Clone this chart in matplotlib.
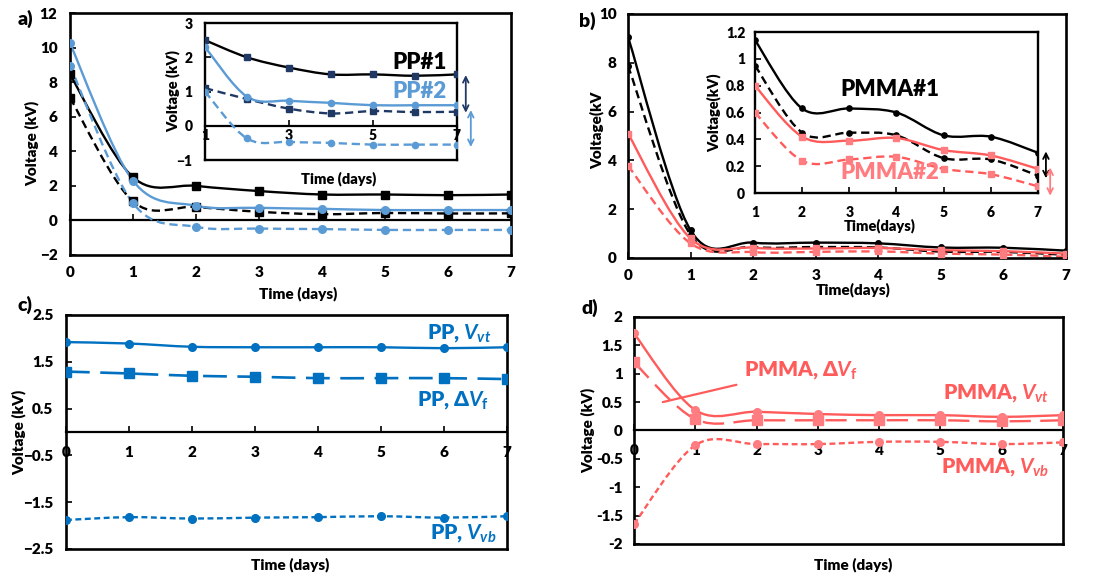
import numpy as np
import matplotlib
matplotlib.use("Agg")
import matplotlib.pyplot as plt
from matplotlib.path import Path
from matplotlib.patches import PathPatch

plt.rcParams['font.family'] = ['Lato', 'DejaVu Sans']
plt.rcParams['font.weight'] = 'heavy'
plt.rcParams['axes.labelweight'] = 'heavy'
plt.rcParams['mathtext.fontset'] = 'custom'
plt.rcParams['mathtext.it'] = 'Lato:italic:bold'
plt.rcParams['mathtext.rm'] = 'Lato:bold'
plt.rcParams['mathtext.bf'] = 'Lato:bold'

# ---------------- data ----------------
days = [0, 1, 2, 3, 4, 5, 6, 7]

# a) PP, top / bottom surface voltages
pp1_top = [8.45, 2.5, 2.0, 1.7, 1.5, 1.5, 1.46, 1.5]
pp1_bot = [7.1, 1.1, 0.78, 0.5, 0.36, 0.43, 0.4, 0.41]
pp2_top = [10.25, 2.3, 0.85, 0.73, 0.67, 0.6, 0.6, 0.6]
pp2_bot = [8.95, 1.0, -0.37, -0.47, -0.5, -0.55, -0.55, -0.55]

# b) PMMA
pmma1_top = [9.07, 1.14, 0.63, 0.63, 0.6, 0.43, 0.42, 0.3]
pmma1_bot = [7.88, 0.95, 0.45, 0.45, 0.43, 0.26, 0.25, 0.13]
pmma2_top = [5.1, 0.8, 0.42, 0.39, 0.41, 0.32, 0.28, 0.18]
pmma2_bot = [3.78, 0.6, 0.24, 0.25, 0.27, 0.18, 0.14, 0.05]

# c) PP
pp_vvt = [1.92, 1.89, 1.82, 1.81, 1.81, 1.81, 1.79, 1.81]
pp_dvf = [1.29, 1.25, 1.2, 1.18, 1.15, 1.15, 1.15, 1.13]
pp_vvb = [-1.88, -1.82, -1.85, -1.83, -1.82, -1.8, -1.83, -1.8]

# d) PMMA
pmma_vvt = [1.71, 0.36, 0.33, 0.29, 0.27, 0.27, 0.24, 0.27]
pmma_dvf = [1.2, 0.2, 0.18, 0.18, 0.18, 0.18, 0.16, 0.18]
pmma_vvb = [-1.65, -0.26, -0.24, -0.24, -0.2, -0.2, -0.24, -0.21]

BLACK = 'black'
NAVY = '#203864'
LBLUE = '#5B9BD5'
BLUE = '#0070C0'
RED = '#FF5B5B'
PINK = '#FF7C80'

DASH = (0, (3.5, 2))
LONGDASH = (0, (9, 4))
SDASH = (0, (2.5, 1.5))


def smooth(ax, x, y, color, lw=1.7, ls='-', zorder=2):
    # Excel-like smoothed line: cubic bezier through every point
    pts = np.column_stack([x, y]).astype(float)
    n = len(pts)
    verts = [pts[0]]
    codes = [Path.MOVETO]
    for i in range(n - 1):
        p0 = pts[max(i - 1, 0)]
        p1 = pts[i]
        p2 = pts[i + 1]
        p3 = pts[min(i + 2, n - 1)]
        verts += [p1 + (p2 - p0) / 6, p2 - (p3 - p1) / 6, p2]
        codes += [Path.CURVE4] * 3
    patch = PathPatch(Path(verts, codes), fill=False, edgecolor=color,
                      lw=lw, linestyle=ls, zorder=zorder, capstyle='butt')
    ax.add_patch(patch)


def series(ax, x, y, color, mcolor, marker, ms, ls='-', lw=1.7):
    smooth(ax, x, y, color, lw=lw, ls=ls)
    ax.plot(x, y, ls='none', marker=marker, ms=ms, color=mcolor, zorder=3)


def frame(ax, lw=1.9):
    for s in ax.spines.values():
        s.set_linewidth(lw)
        s.set_color('black')
    ax.tick_params(axis='y', direction='in', length=4, width=1.2, labelsize=11)


def zero_axis(ax, ymin, ymax, labels=True, ticks=days, size=11, pad=6):
    frac = (0 - ymin) / (ymax - ymin)
    sec = ax.secondary_xaxis(frac)
    sec.set_alignment('bottom')
    sec.set_xticks(ticks)
    sec.spines['bottom'].set_linewidth(1.6)
    sec.tick_params(direction='in', length=4, width=1.2, labelsize=size, pad=pad)
    if not labels:
        sec.set_xticklabels([])
    return sec


fig = plt.figure(figsize=(11.14, 5.76), dpi=100)

# ================= a) =================
ax = fig.add_axes([0.0628, 0.5573, 0.3959, 0.4201])
series(ax, days, pp1_top, BLACK, BLACK, 's', 6)
series(ax, days, pp1_bot, BLACK, BLACK, 's', 6, ls=DASH)
series(ax, days, pp2_top, LBLUE, LBLUE, 'o', 5.5)
series(ax, days, pp2_bot, LBLUE, LBLUE, 'o', 5.5, ls=DASH)
ax.set_xlim(0, 7)
ax.set_ylim(-2, 12)
ax.set_yticks(range(-2, 13, 2))
ax.set_xticks(days)
ax.tick_params(axis='x', length=0, labelsize=11, pad=8)
frame(ax)
ax.tick_params(axis='y', pad=9)
zero_axis(ax, -2, 12, labels=False)
ax.set_xlabel('Time (days)', fontsize=11)
ax.xaxis.set_label_coords(0.517, -0.13)
ax.set_ylabel('Voltage (kV)', fontsize=11)
ax.yaxis.set_label_coords(-0.07, 0.46)
fig.text(0.016, 0.968, 'a)', fontsize=14, va='center')

# inset a
ia = fig.add_axes([0.1840, 0.7222, 0.2262, 0.2378])
series(ia, days[1:], pp1_top[1:], BLACK, NAVY, 's', 4.2)
series(ia, days[1:], pp1_bot[1:], NAVY, NAVY, 's', 4.2, ls=DASH)
series(ia, days[1:], pp2_top[1:], LBLUE, LBLUE, 'o', 4.5)
series(ia, days[1:], pp2_bot[1:], LBLUE, LBLUE, 'o', 4.5, ls=DASH)
ia.set_xlim(1, 7)
ia.set_ylim(-1, 3)
ia.set_yticks(range(-1, 4))
ia.set_xticks([])
frame(ia, lw=1.7)
ia.tick_params(axis='y', labelsize=10, pad=9)
zero_axis(ia, -1, 3, ticks=[1, 3, 5, 7], size=10, pad=2)
ia.set_xlabel('Time (days)', fontsize=10.5)
ia.xaxis.set_label_coords(0.53, -0.08)
ia.set_ylabel('Voltage (kV)', fontsize=10.5)
ia.yaxis.set_label_coords(-0.1, 0.5)
ia.text(6.76, 1.86, 'PP#1', fontsize=16, color=BLACK, ha='right', va='center')
ia.text(6.76, 0.99, 'PP#2', fontsize=16, color=LBLUE, ha='right', va='center')
ia.annotate('', xy=(7.21, 1.48), xytext=(7.21, 0.38), annotation_clip=False,
            arrowprops=dict(arrowstyle='<->', color=NAVY, lw=1.3, shrinkA=0, shrinkB=0))
ia.annotate('', xy=(7.33, 0.46), xytext=(7.33, -0.62), annotation_clip=False,
            arrowprops=dict(arrowstyle='<->', color=LBLUE, lw=1.3, shrinkA=0, shrinkB=0))

# ================= b) =================
bx = fig.add_axes([0.5637, 0.5521, 0.3932, 0.4236])
series(bx, days, pmma1_top, BLACK, BLACK, 'o', 4)
series(bx, days, pmma1_bot, BLACK, BLACK, 'o', 4, ls=DASH)
series(bx, days, pmma2_top, RED, PINK, 's', 5)
series(bx, days, pmma2_bot, RED, PINK, 's', 5, ls=DASH)
bx.set_xlim(0, 7)
bx.set_ylim(0, 10)
bx.set_yticks(range(0, 11, 2))
bx.set_xticks(days)
frame(bx)
bx.tick_params(axis='y', pad=8)
bx.tick_params(axis='x', direction='in', length=4, width=1.2, labelsize=11, pad=8)
bx.set_xlabel('Time(days)', fontsize=11)
bx.xaxis.set_label_coords(0.514, -0.1)
bx.set_ylabel('Voltage(kV', fontsize=11)
bx.yaxis.set_label_coords(-0.055, 0.525)
fig.text(0.52, 0.963, 'b)', fontsize=14, va='center')

# inset b
ib = fig.add_axes([0.6777, 0.6649, 0.2540, 0.2795])
series(ib, days[1:], pmma1_top[1:], BLACK, BLACK, 'o', 3.8)
series(ib, days[1:], pmma1_bot[1:], BLACK, BLACK, 'o', 3.8, ls=DASH)
series(ib, days[1:], pmma2_top[1:], RED, PINK, 's', 4.5)
series(ib, days[1:], pmma2_bot[1:], RED, PINK, 's', 4.5, ls=DASH)
ib.set_xlim(1, 7)
ib.set_ylim(0, 1.2)
ib.set_yticks([0, 0.2, 0.4, 0.6, 0.8, 1.0, 1.2])
ib.set_yticklabels(['0', '0.2', '0.4', '0.6', '0.8', '1', '1.2'])
ib.set_xticks(days[1:])
frame(ib, lw=1.7)
ib.tick_params(axis='y', labelsize=10, pad=7)
ib.tick_params(axis='x', direction='in', length=4, width=1.2, labelsize=10, pad=9)
ib.set_xlabel('Time(days)', fontsize=10.5)
ib.xaxis.set_label_coords(0.44, -0.155)
ib.set_ylabel('Voltage(kV)', fontsize=10.5)
ib.yaxis.set_label_coords(-0.12, 0.5)
ib.text(3.86, 0.77, 'PMMA#1', fontsize=16, color=BLACK, ha='center', va='center')
ib.text(3.86, 0.15, 'PMMA#2', fontsize=16, color=PINK, ha='center', va='center')
ib.annotate('', xy=(7.17, 0.31), xytext=(7.17, 0.11), annotation_clip=False,
            arrowprops=dict(arrowstyle='<->', color=BLACK, lw=1.3, shrinkA=0, shrinkB=0))
ib.annotate('', xy=(7.26, 0.19), xytext=(7.26, -0.02), annotation_clip=False,
            arrowprops=dict(arrowstyle='<->', color=PINK, lw=1.3, shrinkA=0, shrinkB=0))

# ================= c) =================
cx = fig.add_axes([0.0592, 0.0469, 0.3959, 0.4063])
series(cx, days, pp_vvt, BLUE, BLUE, 'o', 5.5)
series(cx, days, pp_dvf, BLUE, BLUE, 's', 6.5, ls=LONGDASH, lw=1.9)
series(cx, days, pp_vvb, BLUE, BLUE, 'o', 5.5, ls=SDASH)
cx.set_xlim(0, 7)
cx.set_ylim(-2.5, 2.5)
cx.set_yticks([-2.5, -1.5, -0.5, 0.5, 1.5, 2.5])
cx.set_xticks([])
frame(cx)
cx.tick_params(axis='y', pad=9)
zero_axis(cx, -2.5, 2.5, pad=10)
cx.set_xlabel('Time (days)', fontsize=11)
cx.xaxis.set_label_coords(0.508, -0.036)
cx.set_ylabel('Voltage (kV)', fontsize=11)
cx.yaxis.set_label_coords(-0.09, 0.5)
cx.text(6.75, 2.12, 'PP, $V_{vt}$', fontsize=15, color=BLUE, ha='right', va='center')
cx.text(6.71, 0.68, 'PP, Δ$V_\\mathrm{f}$', fontsize=15, color=BLUE, ha='right', va='center')
cx.text(6.84, -2.16, 'PP, $V_{vb}$', fontsize=15, color=BLUE, ha='right', va='center')
fig.text(0.016, 0.47, 'c)', fontsize=14, va='center')

# ================= d) =================
dx = fig.add_axes([0.5691, 0.0556, 0.3851, 0.3941])
series(dx, days, pmma_vvt, RED, PINK, 'o', 5.5)
series(dx, days, pmma_dvf, RED, PINK, 's', 7, ls=LONGDASH)
series(dx, days, pmma_vvb, RED, PINK, 'o', 5.5, ls=SDASH)
dx.set_xlim(0, 7)
dx.set_ylim(-2, 2)
dx.set_yticks([-2, -1.5, -1, -0.5, 0, 0.5, 1, 1.5, 2])
dx.set_yticklabels(['-2', '-1.5', '-1', '-0.5', '0', '0.5', '1', '1.5', '2'])
dx.set_xticks([])
frame(dx)
dx.tick_params(axis='y', pad=8)
zero_axis(dx, -2, 2, pad=10)
dx.set_xlabel('Time (days)', fontsize=11)
dx.xaxis.set_label_coords(0.51, -0.06)
dx.set_ylabel('Voltage (kV)', fontsize=11)
dx.yaxis.set_label_coords(-0.09, 0.5)
dx.annotate('PMMA, Δ$V_\\mathrm{f}$', xy=(0.47, 0.5), xytext=(1.79, 1.07),
            fontsize=15, color=RED, ha='left', va='center',
            arrowprops=dict(arrowstyle='-', color=RED, lw=1.6, shrinkA=4, shrinkB=0))
dx.text(6.77, 0.66, 'PMMA, $V_{vt}$', fontsize=15, color=RED, ha='right', va='center')
dx.text(6.77, -0.64, 'PMMA, $V_{vb}$', fontsize=15, color=RED, ha='right', va='center')
fig.text(0.522, 0.465, 'd)', fontsize=14, va='center')

fig.savefig('out.png', dpi=100)
